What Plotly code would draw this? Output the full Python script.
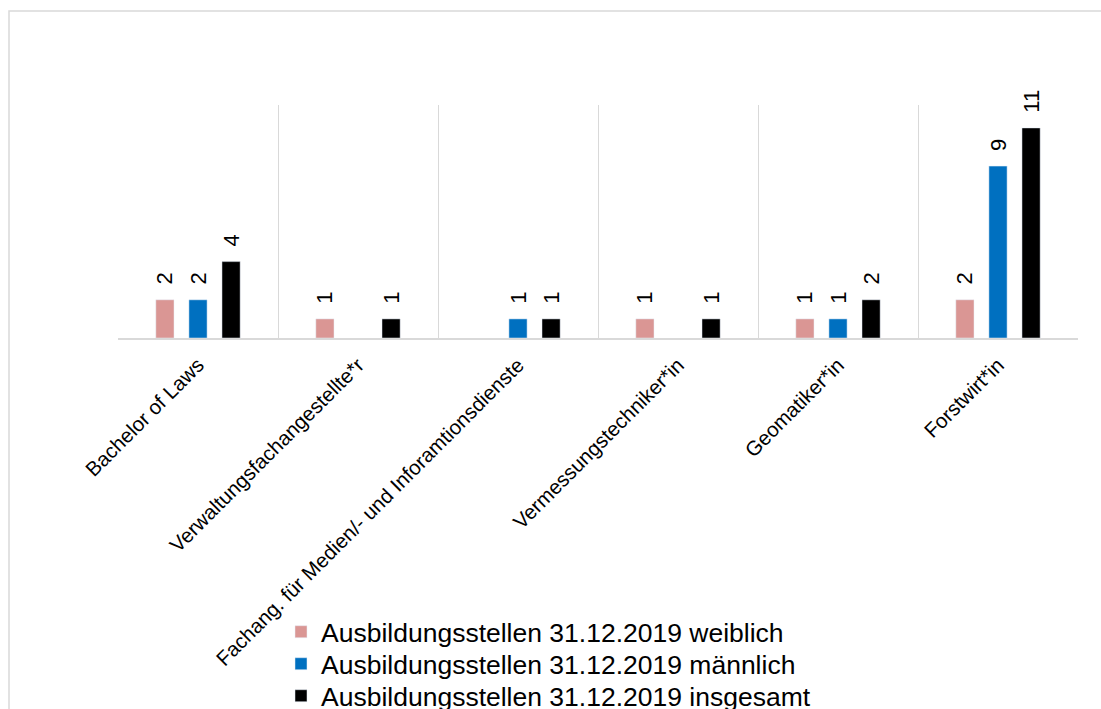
import plotly.graph_objects as go

categories = ["Bachelor of Laws", "Verwaltungsfachangestellte*r",
              "Fachang. für Medien/- und Inforamtionsdienste",
              "Vermessungstechniker*in", "Geomatiker*in", "Forstwirt*in"]
weiblich = [2, 1, None, 1, 1, 2]
maennlich = [2, None, 1, None, 1, 9]
insgesamt = [4, 1, 1, 1, 2, 11]

series = [
    ("Ausbildungsstellen 31.12.2019 weiblich", weiblich, "#DA9694"),
    ("Ausbildungsstellen 31.12.2019 männlich", maennlich, "#0070C0"),
    ("Ausbildungsstellen 31.12.2019 insgesamt", insgesamt, "#000000"),
]

FONT = "Liberation Sans, Arial, sans-serif"
PL, PR, PT, PB = 118, 1078, 105, 338
PW, PH = PR - PL, PB - PT
legend_rows_px = [632, 664, 696]
legend_names = ["legend", "legend2", "legend3"]

fig = go.Figure()
for (name, vals, col), lg in zip(series, legend_names):
    fig.add_trace(go.Bar(
        x=categories, y=vals, name=name, marker_color=col, legend=lg,
        text=[("" if v is None else "\u00a0\u00a0" + str(v)) for v in vals],
        textposition="outside", textangle=-90, constraintext="none",
        textfont=dict(family=FONT, size=22, color="#000000"),
        cliponaxis=False,
    ))

legend_cfg = {}
for lg, ypx in zip(legend_names, legend_rows_px):
    legend_cfg[lg] = dict(
        x=(281 - PL) / PW, y=(PB - ypx) / PH, xanchor="left", yanchor="middle",
        font=dict(family=FONT, size=26.5, color="#000000"),
        bgcolor="rgba(0,0,0,0)", itemwidth=30,
    )

fig.update_layout(
    width=1101, height=709,
    margin=dict(l=PL, r=1101 - PR, t=PT, b=709 - PB, autoexpand=False),
    paper_bgcolor="white", plot_bgcolor="white",
    barmode="group", bargap=0.38, bargroupgap=0.45,
    font=dict(family=FONT, color="#000000"),
    showlegend=True,
    xaxis=dict(
        type="category", tickson="boundaries", showgrid=True,
        gridcolor="#D9D9D9", gridwidth=1,
        showline=True, linecolor="#D9D9D9", linewidth=2,
        ticks="", tickangle=-45, automargin=False, ticklabelstandoff=5,
        tickfont=dict(family=FONT, size=20.5, color="#000000"),
        fixedrange=True,
    ),
    yaxis=dict(
        range=[0, 12.2], showgrid=False, zeroline=False,
        showticklabels=False, showline=False, ticks="",
        automargin=False, fixedrange=True,
    ),
    shapes=[dict(
        type="rect", xref="paper", yref="paper",
        x0=(9 - PL) / PW, x1=1.1, y0=-3, y1=(PB - 11) / PH,
        line=dict(color="#D9D9D9", width=1.5), fillcolor="rgba(0,0,0,0)",
        layer="below",
    )],
    **legend_cfg,
)

fig.write_html("out.html")
